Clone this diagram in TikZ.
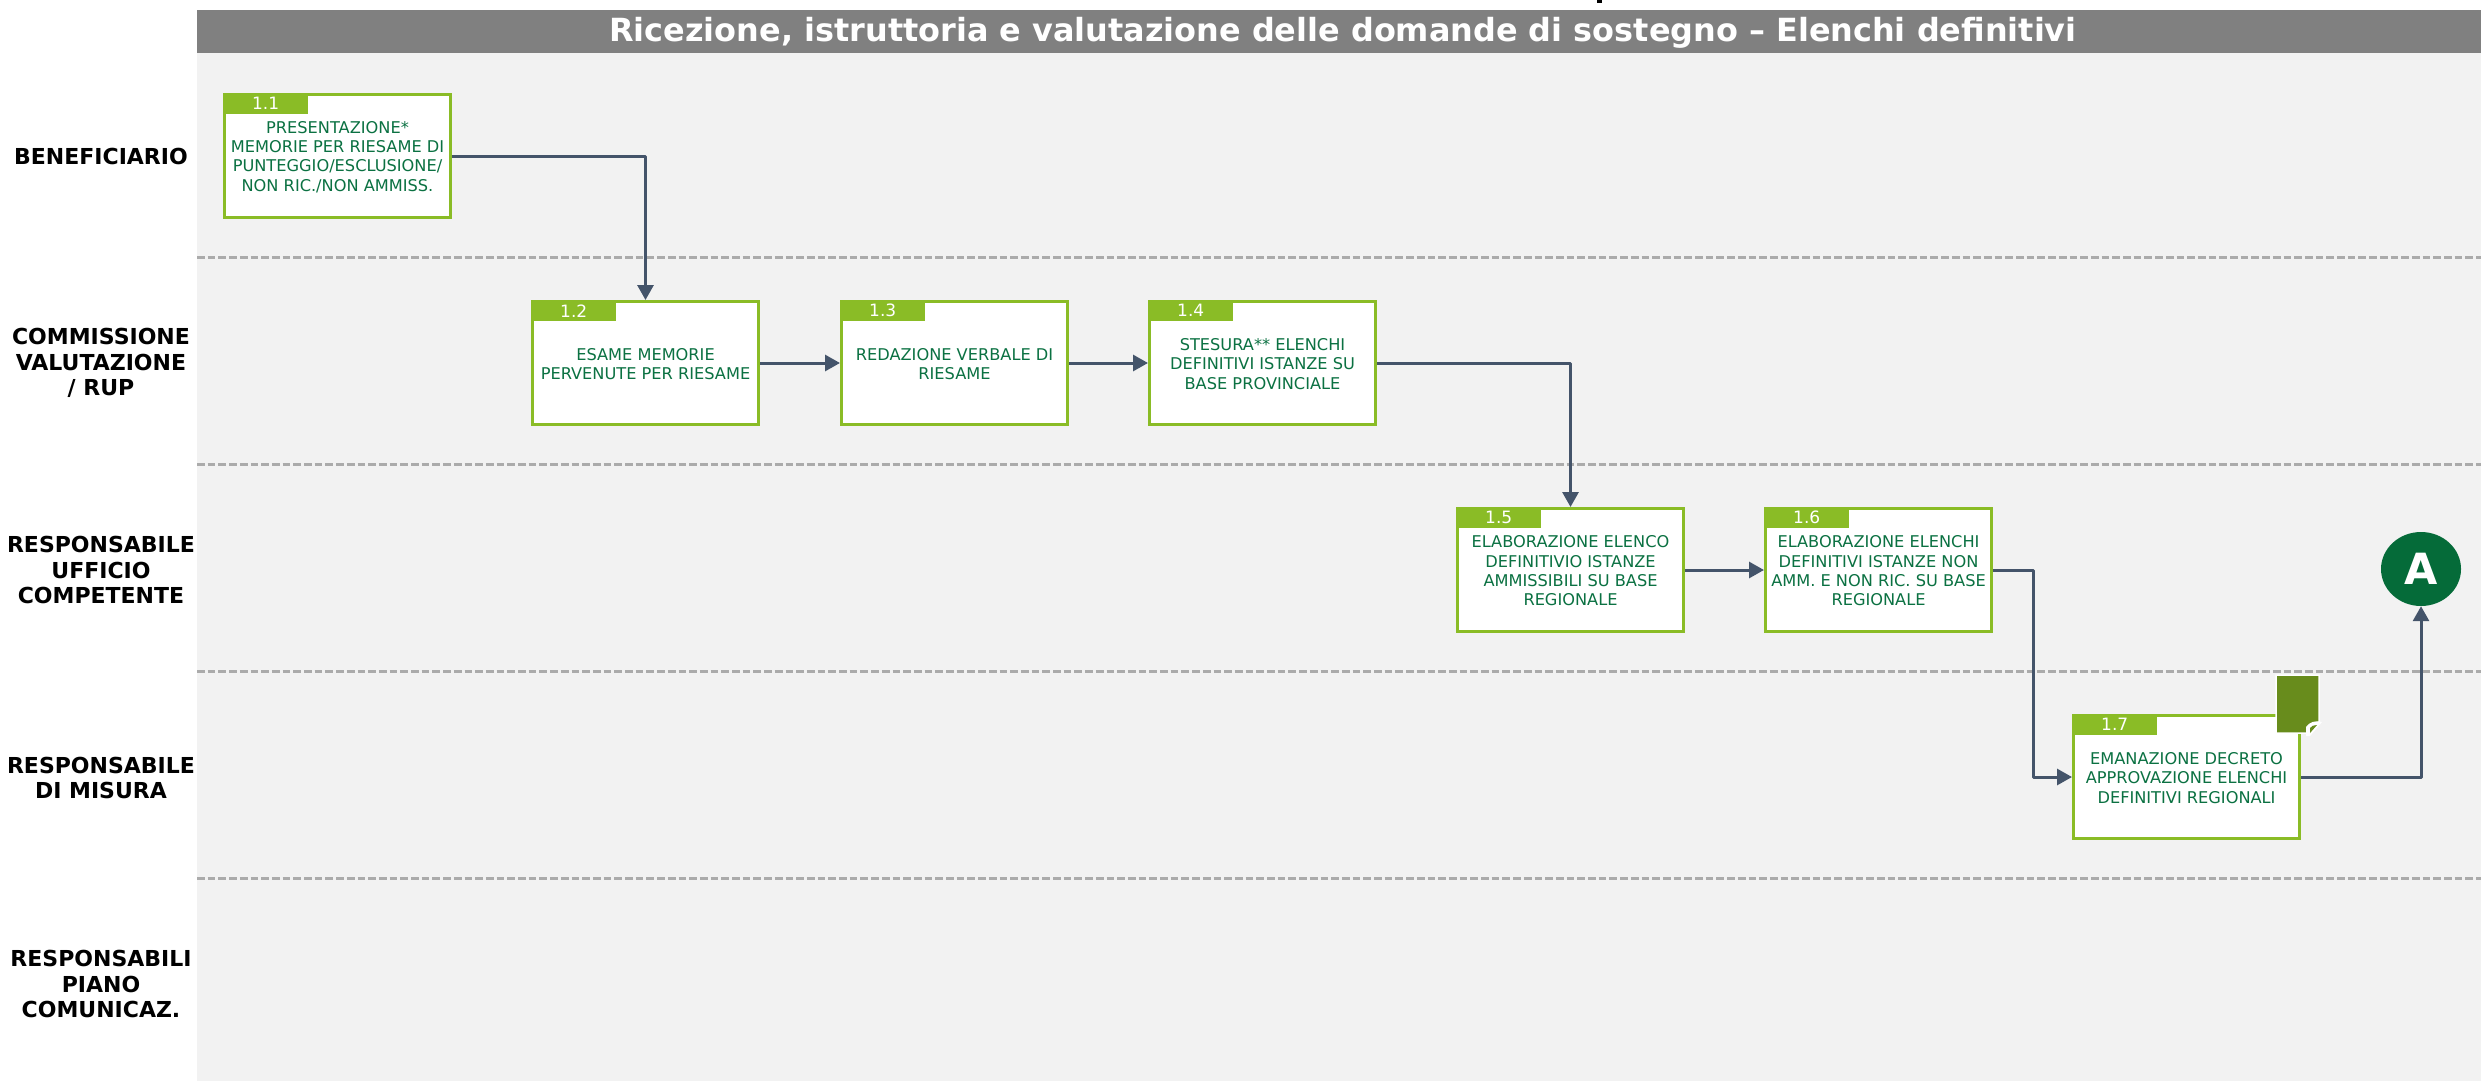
\documentclass[tikz,border=0pt]{standalone}
\usepackage{fontspec}
\setmainfont{DejaVu Sans}
\usetikzlibrary{arrows.meta,calc,shapes.geometric}
\definecolor{bandbg}{HTML}{F2F2F2}
\definecolor{titlebg}{HTML}{808080}
\definecolor{stepgreen}{HTML}{8ABC26}
\definecolor{txtgreen}{HTML}{0B7142}
\definecolor{darkgreen}{HTML}{056B39}
\definecolor{docgreen}{HTML}{688C1C}
\definecolor{conn}{HTML}{44546A}
\definecolor{sep}{HTML}{ABABAB}
\tikzset{
 x=1pt,y=-1pt,
 lanelabel/.style={font=\fontsize{22}{25.3}\selectfont\bfseries,align=center,text=black,inner sep=0pt},
 stepbox/.style={draw=stepgreen,line width=3pt,fill=white,minimum width=226pt,minimum height=123pt,inner sep=0pt,anchor=north west},
 steptext/.style={font=\fontsize{16.2}{19.3}\selectfont,align=center,text=txtgreen,inner sep=0pt,yshift=-1pt},
 tabbox/.style={fill=stepgreen,minimum width=85pt,minimum height=21pt,inner sep=0pt,anchor=north west,text=white,font=\fontsize{17}{17}\selectfont},
 link/.style={draw=conn,line width=3pt,line join=round,-{Triangle[length=15pt,width=16pt]}},
 sepline/.style={draw=sep,line width=3pt,dash pattern=on 7.7pt off 3pt},
}
\newcommand{\stepnode}[5]{%
 \node[stepbox] (#1) at (#2,#3) {};
 \node[tabbox] (#1t) at (#2,#3) {#4};
 \node[steptext] (#1l) at (#1.center) {#5};
}
\begin{document}
\begin{tikzpicture}
\useasboundingbox (0,0) rectangle (2481,1081);
\fill[black] (1597,0) rectangle (1602,3.5);
\fill[bandbg] (197,53) rectangle (2481,1081);
\node[fill=titlebg,minimum width=2284pt,minimum height=43pt,inner sep=0pt,anchor=north west] (title) at (197,10) {};
\node[text=white,font=\fontsize{31.9}{32}\selectfont\bfseries,inner sep=0pt] (titletext) at (1343,33) {Ricezione, istruttoria e valutazione delle domande di sostegno – Elenchi definitivi};
\foreach \yy in {257,464,671,878}{\draw[sepline] (197,\yy) -- (2481,\yy);}
\node[lanelabel] (l1) at (101,156) {BENEFICIARIO};
\node[lanelabel] (l2) at (101,363) {COMMISSIONE\\VALUTAZIONE\\/ RUP};
\node[lanelabel] (l3) at (101,570) {RESPONSABILE\\UFFICIO\\COMPETENTE};
\node[lanelabel] (l4) at (101,778) {RESPONSABILE\\DI MISURA};
\node[lanelabel] (l5) at (101,984) {RESPONSABILI\\PIANO\\COMUNICAZ.};
\stepnode{a}{223}{93}{1.1}{PRESENTAZIONE*\\MEMORIE PER RIESAME DI\\PUNTEGGIO/ESCLUSIONE/\\NON RIC./NON AMMISS.}
\stepnode{b}{531}{300}{1.2}{ESAME MEMORIE\\PERVENUTE PER RIESAME}
\stepnode{c}{840}{300}{1.3}{REDAZIONE VERBALE DI\\RIESAME}
\stepnode{d}{1148}{300}{1.4}{STESURA** ELENCHI\\DEFINITIVI ISTANZE SU\\BASE PROVINCIALE}
\stepnode{e}{1456}{507}{1.5}{ELABORAZIONE ELENCO\\DEFINITIVIO ISTANZE\\AMMISSIBILI SU BASE\\REGIONALE}
\stepnode{f}{1764}{507}{1.6}{ELABORAZIONE ELENCHI\\DEFINITIVI ISTANZE NON\\AMM. E NON RIC. SU BASE\\REGIONALE}
\stepnode{g}{2072}{714}{1.7}{EMANAZIONE DECRETO\\APPROVAZIONE ELENCHI\\DEFINITIVI REGIONALI}
% document icon
\fill[docgreen,draw=white,line width=1.5pt] (2276,675) -- (2319,675) -- (2319,722) -- (2307,733) -- (2276,733) -- cycle;
\fill[white] (2306,736) -- (2306,727) .. controls (2309,722) and (2316,720) .. (2322,722) -- (2310,736) -- cycle;
\fill[docgreen] (2310,733) -- (2310,728) .. controls (2311,726) and (2314,725) .. (2317,725) -- cycle;
\node[ellipse,fill=darkgreen,inner sep=0pt,text=white,font=\fontsize{43}{43}\selectfont\bfseries,minimum width=80pt,minimum height=74pt] (end) at (2421,569) {A};
\draw[link] (a.east) -| (b.north);
\draw[link] (b.east) -- (c.west);
\draw[link] (c.east) -- (d.west);
\draw[link] (d.east) -| (e.north);
\draw[link] (e.east) -- (f.west);
\draw[link] (f.east) -- ++(40,0) |- (g.west);
\draw[link] (g.east) -| (end.south);
\end{tikzpicture}
\end{document}
